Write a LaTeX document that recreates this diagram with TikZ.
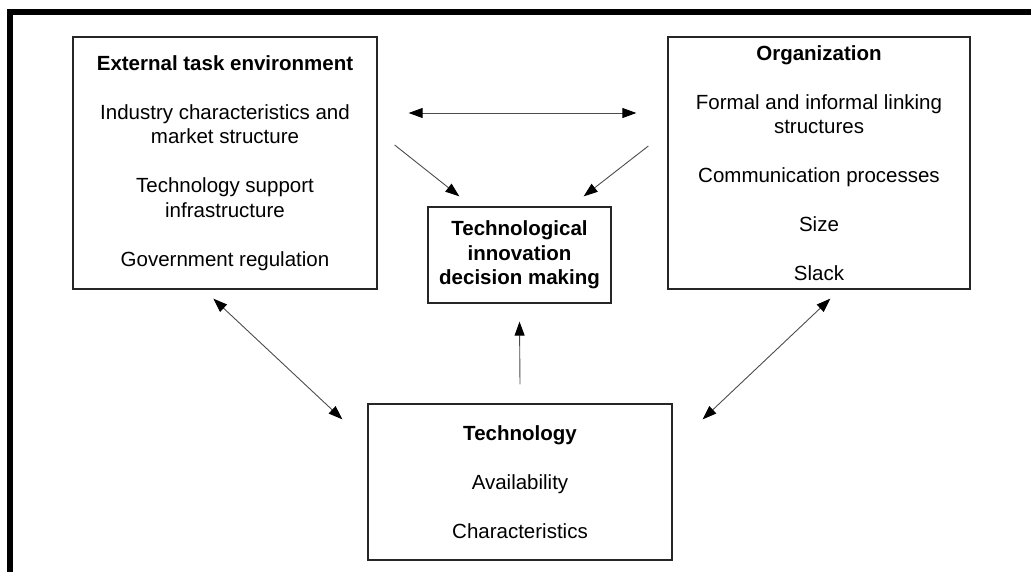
\documentclass[tikz,border=0pt]{standalone}
\usepackage{fontspec}
\setmainfont{Liberation Sans}
\usetikzlibrary{arrows.meta}
\usetikzlibrary{positioning}

\begin{document}
\begin{tikzpicture}[x=1pt,y=-1pt,
  box/.style={draw=black!85, line width=1.3pt, align=center, inner sep=0pt,
    font=\fontsize{20.5}{24.5}\selectfont},
  link/.style={draw=black!70, line width=0.9pt},
  tip/.style={-{Triangle[length=14pt,width=10pt,color=black]}},
  tips/.style={{Triangle[length=14pt,width=10pt,color=black]}-{Triangle[length=14pt,width=10pt,color=black]}}]
\useasboundingbox (0,0) rectangle (1031,572);

% frame
\draw[line width=6pt] (10,572) -- (10,12) -- (1031,12);

\node[box, minimum width=304pt, minimum height=252pt] (env) at (225,163)
  {\textbf{External task environment}\\[24.5pt]
   Industry characteristics and\\ market structure\\[24.5pt]
   Technology support\\ infrastructure\\[24.5pt]
   Government regulation};

\node[box, minimum width=302pt, minimum height=252pt] (org) at (819,163)
  {\textbf{Organization}\\[24.5pt]
   Formal and informal linking\\ structures\\[24.5pt]
   Communication processes\\[24.5pt]
   Size\\[24.5pt]
   Slack};

\node[box, minimum width=183pt, minimum height=96pt] (decide) at (519.5,255)
  {\textbf{Technological}\\ \textbf{innovation}\\ \textbf{decision making}};

\node[box, minimum width=304pt, minimum height=156pt] (tech) at (520,482)
  {\textbf{Technology}\\[24.5pt]
   Availability\\[24.5pt]
   Characteristics};

\draw[link, tips] ([yshift=50pt]env.east) -- ([yshift=50pt]org.west)
  [shorten <=31pt, shorten >=31pt];
\draw[link, tip] ([xshift=17pt,yshift=18pt]env.east) -- ([xshift=32pt,yshift=10pt]decide.north west);
\draw[link, tip] ([xshift=-19pt,yshift=17pt]org.west) -- ([xshift=-28pt,yshift=10pt]decide.north east);
\draw[link, tip] ([yshift=19pt]tech.north) -- ([yshift=-18pt]decide.south);

\draw[link, tips] ([xshift=141pt,yshift=-9pt]env.south west) -- ([xshift=-25pt,yshift=-16pt]tech.north west);
\draw[link, tips] ([xshift=30pt,yshift=-16pt]tech.north east) -- ([xshift=163pt,yshift=-9pt]org.south west);

\end{tikzpicture}
\end{document}
